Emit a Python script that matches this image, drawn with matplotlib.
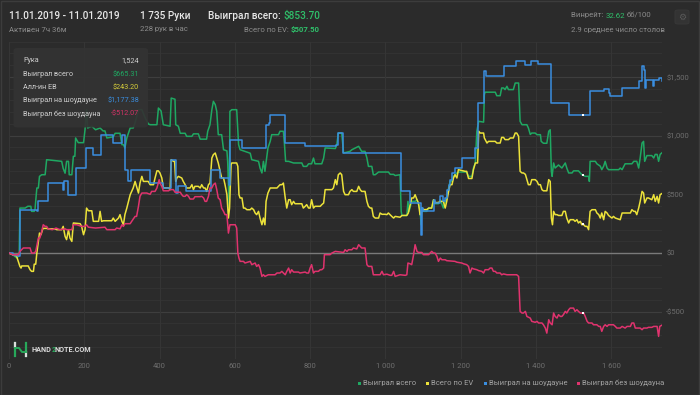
import matplotlib
matplotlib.use("Agg")
import matplotlib.pyplot as plt
from matplotlib.patches import FancyBboxPatch, Rectangle
from matplotlib.lines import Line2D

plt.rcParams['font.family'] = ['Roboto', 'DejaVu Sans']

# ---------------- data ----------------
green_h = [0,10,20,27,29,43,50,58,60,67,69,74,78,81,87,96,100,140,144,149,153,158,160,167,171,175,177,184,198,202,206,209,220,230,242,250,255,260,277,282,295,300,304,308,313,322,330,335,344,353,362,370,375,393,397,404,410,428,431,441,443,450,455,468,472,486,490,503,508,525,528,534,539,543,548,552,556,565,570,579,581,585,587,592,605,610,614,641,645,663,667,672,676,680,688,694,698,716,720,729,732,735,743,756,778,782,791,796,804,809,813,831,836,840,867,871,875,884,889,906,911,920,929,937,946,951,955,964,968,973,982,1008,1013,1022,1026,1039,1042,1044,1057,1060,1063,1070,1079,1084,1088,1092,1095,1097,1101,1110,1115,1123,1128,1132,1141,1146,1154,1159,1163,1168,1172,1177,1181,1190,1194,1216,1221,1230,1234,1239,1243,1248,1261,1263,1265,1292,1296,1305,1309,1314,1318,1323,1327,1340,1345,1354,1358,1363,1376,1380,1385,1389,1398,1403,1412,1414,1420,1429,1434,1438,1441,1443,1447,1451,1460,1469,1478,1482,1487,1496,1500,1513,1522,1524,1531,1540,1542,1544,1558,1562,1571,1575,1580,1584,1589,1593,1620,1624,1629,1637,1655,1660,1668,1673,1677,1682,1686,1689,1695,1708,1713,1717,1722,1726,1730,1735]
green_v = [0,-15,-40,-25,383,383,398,398,355,355,369,554,554,653,667,667,795,781,720,680,781,781,667,667,824,824,980,940,940,1050,1221,1065,1080,1050,1065,1040,1040,980,990,1020,1020,923,923,895,980,1065,1065,1110,1221,1221,1150,1100,1093,1093,1235,1210,1093,1080,1320,1310,1093,1080,1020,1020,994,994,1015,1015,970,970,1037,1093,1221,1292,1264,1207,1008,1008,880,870,781,383,1207,1221,1221,923,880,850,795,781,724,682,781,696,895,951,1008,1008,1037,1037,923,781,781,767,767,738,738,760,760,809,760,760,809,895,890,923,1022,1022,852,866,880,895,909,866,866,809,738,738,667,667,690,690,670,670,660,667,355,320,320,440,355,440,440,454,412,369,241,383,355,355,383,383,454,420,420,454,383,440,469,554,610,610,653,682,690,690,653,653,724,767,1037,1122,1115,1349,1370,1370,1340,1340,1406,1406,1392,1420,1392,1392,1448,1448,1122,1093,1093,1065,1010,1022,1022,1008,1008,951,935,935,1037,1050,696,653,767,724,750,724,767,724,682,682,700,700,667,665,653,653,610,781,781,760,740,710,740,781,724,710,710,724,710,760,760,781,781,724,809,937,951,781,830,830,809,840,840,781,840,854]

yellow_h = [0,10,20,29,32,34,51,56,60,65,67,71,74,78,81,85,89,91,100,104,122,127,140,144,149,153,158,162,167,171,189,193,198,202,206,211,220,224,238,242,246,251,273,277,282,291,295,300,304,308,313,322,330,335,344,348,353,357,370,375,384,388,393,397,401,406,410,424,428,431,437,440,443,446,450,459,463,468,472,481,486,490,494,503,508,512,517,521,525,530,534,539,543,548,552,556,561,565,570,574,579,583,586,590,592,605,608,611,614,619,623,627,632,641,645,650,654,658,663,667,672,676,680,683,688,694,712,716,720,725,729,734,738,743,747,751,756,760,778,782,787,791,796,800,804,809,813,827,831,836,840,858,862,867,871,875,880,884,889,893,902,906,911,915,924,929,933,937,946,951,955,960,964,968,973,982,986,991,1000,1004,1008,1017,1022,1026,1039,1044,1057,1061,1070,1075,1079,1084,1088,1092,1095,1097,1101,1110,1115,1123,1128,1132,1141,1146,1154,1159,1163,1168,1172,1177,1181,1185,1190,1194,1212,1216,1221,1230,1234,1239,1245,1248,1252,1261,1263,1270,1274,1292,1296,1305,1309,1314,1318,1327,1332,1340,1345,1349,1354,1358,1363,1367,1372,1376,1380,1385,1389,1398,1403,1407,1412,1416,1420,1429,1434,1438,1441,1444,1447,1451,1456,1460,1469,1473,1478,1482,1487,1491,1500,1504,1509,1513,1518,1522,1524,1527,1531,1536,1540,1544,1549,1558,1562,1567,1571,1575,1580,1584,1589,1593,1602,1606,1611,1624,1629,1651,1655,1660,1664,1668,1673,1677,1682,1686,1689,1695,1699,1708,1713,1717,1722,1726,1730,1735]
yellow_v = [0,-15,-25,-114,-128,-110,-110,-142,-156,-156,-95,-95,0,99,170,156,199,210,210,206,206,199,199,227,142,114,199,128,99,256,250,227,156,199,383,360,360,270,270,355,270,275,275,298,270,298,327,270,241,327,383,497,554,610,511,596,653,610,610,582,582,639,700,700,682,639,555,555,540,795,781,781,610,639,653,639,610,582,554,554,582,540,568,568,554,582,554,554,525,582,596,809,838,852,809,767,696,639,639,582,497,298,383,753,767,767,738,497,469,469,383,383,369,369,383,369,341,327,355,298,241,298,241,440,511,554,554,568,582,582,596,469,383,454,454,412,440,420,420,383,398,412,383,383,454,383,398,398,412,426,540,540,554,625,582,667,682,667,525,497,497,525,540,525,525,568,540,525,525,440,398,383,383,312,298,298,341,330,330,327,341,312,298,312,305,320,320,341,469,469,497,454,426,327,327,383,370,370,383,383,454,430,430,440,440,383,440,525,582,582,639,667,639,710,696,696,635,635,710,767,767,1037,1022,1022,980,937,951,951,937,937,985,985,966,966,980,980,1022,1022,994,696,682,682,670,625,582,582,625,625,610,582,582,540,530,530,625,610,298,241,355,327,327,320,320,355,355,298,256,284,284,270,284,256,270,241,243,241,227,227,199,355,369,369,341,327,298,341,284,355,341,320,298,312,298,284,341,341,369,355,355,327,383,440,525,511,426,469,469,454,497,440,483,426,497,507]

blue_h = [0,10,20,29,74,78,103,143,147,158,177,205,222,245,277,300,308,317,324,375,410,431,443,448,471,537,561,585,587,620,682,691,694,734,787,869,875,887,1042,1066,1095,1097,1101,1128,1132,1146,1154,1159,1163,1168,1172,1177,1185,1203,1237,1246,1263,1267,1314,1348,1372,1388,1405,1441,1487,1544,1580,1593,1598,1629,1673,1682,1686,1689,1692,1711,1714,1726,1735]
blue_v = [0,-15,-25,369,360,440,596,540,610,497,724,895,838,1008,937,1008,710,610,710,596,554,795,511,568,525,710,639,582,966,895,1093,1107,1179,937,909,923,1022,852,525,426,156,383,360,454,430,483,440,469,540,582,625,682,724,809,895,1278,1548,1505,1590,1633,1605,1639,1610,1278,1173,1377,1400,1363,1335,1406,1463,1590,1562,1406,1477,1420,1477,1490,1468]

pink_h = [0,10,25,29,38,56,60,67,71,78,82,87,91,96,100,104,115,125,135,149,153,167,171,180,193,202,206,211,230,255,260,282,286,295,300,304,308,322,326,335,339,344,348,353,366,375,379,388,393,399,401,406,410,424,428,437,441,455,459,463,468,472,477,481,490,494,508,512,517,521,525,530,534,539,543,548,552,556,561,565,570,574,579,583,587,601,605,608,611,614,623,627,641,645,654,658,663,667,672,676,680,689,707,712,720,725,729,734,738,743,747,751,756,769,773,787,791,796,800,804,809,813,822,827,831,836,838,853,858,867,889,893,898,902,911,915,924,929,933,937,946,951,955,964,968,986,991,995,1004,1013,1017,1022,1026,1039,1053,1057,1060,1066,1070,1075,1079,1084,1088,1097,1101,1115,1123,1128,1132,1137,1141,1146,1150,1159,1163,1185,1190,1203,1208,1216,1221,1225,1230,1234,1243,1248,1256,1261,1265,1274,1278,1283,1287,1292,1296,1305,1309,1314,1323,1327,1349,1354,1358,1363,1367,1372,1376,1385,1389,1398,1403,1407,1416,1420,1425,1429,1434,1438,1443,1447,1451,1456,1460,1465,1469,1473,1478,1482,1487,1491,1500,1504,1509,1513,1518,1524,1527,1531,1536,1540,1549,1553,1562,1567,1571,1575,1580,1584,1589,1593,1606,1611,1615,1624,1629,1637,1642,1651,1655,1660,1664,1677,1682,1686,1695,1699,1708,1713,1722,1726,1729,1735]
pink_v = [0,-15,-15,14,43,43,0,0,14,128,128,185,241,227,227,206,199,213,199,206,199,199,241,241,227,227,241,220,213,220,199,199,213,206,241,227,250,250,270,312,312,398,483,511,511,500,525,525,554,625,596,568,530,530,540,540,518,518,497,483,483,497,483,460,460,480,480,483,469,440,440,483,554,554,582,596,540,469,454,383,355,327,327,170,241,241,213,0,-43,-71,-71,-85,-71,-99,-85,-114,-99,-128,-199,-185,-199,-185,-185,-170,-170,-156,-170,-185,-156,-128,-170,-142,-162,-162,-170,-162,-170,-170,-128,-99,-170,-156,-156,-142,-142,-128,-14,-14,0,14,5,28,14,28,28,43,35,71,57,43,43,-99,-114,-114,-185,-185,-156,-185,-180,-190,-190,-156,-199,-185,-190,-185,-85,-92,-99,-14,71,14,5,5,-14,-14,14,0,0,-28,-71,-43,-57,-57,-65,-71,-78,-85,-92,-99,-114,-170,-128,-135,-142,-150,-156,-170,-142,-142,-128,-128,-156,-156,-170,-170,-185,-178,-185,-185,-185,-199,-497,-511,-511,-497,-540,-554,-582,-590,-582,-596,-596,-611,-639,-682,-568,-596,-611,-511,-540,-554,-525,-540,-540,-525,-497,-511,-483,-469,-469,-497,-483,-497,-511,-512,-511,-540,-582,-596,-596,-611,-611,-625,-625,-667,-625,-611,-625,-611,-611,-625,-639,-639,-625,-639,-625,-625,-596,-596,-639,-639,-653,-639,-639,-633,-633,-625,-625,-710,-625,-614]

x_ticks = [0, 200, 400, 600, 800, 1000, 1200, 1400, 1600]
x_tick_labels = ['0', '200', '400', '600', '800', '1 000', '1 200', '1 400', '1 600']
y_ticks = [-500, 0, 500, 1000, 1500]
y_tick_labels = ['-$500', '$0', '$500', '$1,000', '$1,500']

series_names = ['Выиграл всего', 'Всего по EV', 'Выиграл на шоудауне', 'Выиграл без шоудауна']
series_colors = ['#1fa862', '#ece23a', '#3a8ee0', '#e0336e']

hover_hand = 1524
hover_values = [665.31, 243.20, 1177.38, -512.07]
tooltip_rows = [('Рука', '1,524', '#cfcfcf'),
                ('Выиграл всего', '$665.31', '#1fa862'),
                ('Алл-ин EВ', '$243.20', '#d8cf3a'),
                ('Выиграл на шоудауне', '$1,177.38', '#3a8ee0'),
                ('Выиграл без шоудауна', '-$512.07', '#d23366')]

# ---------------- figure ----------------
BG = '#2b2b2b'
W, H = 700, 395
fig = plt.figure(figsize=(W / 100, H / 100), dpi=100, facecolor=BG)

def fx(px):
    return px / W

def fy(py):
    return 1 - py / H

ax = fig.add_axes([fx(9), fy(358.7), fx(662 - 9), (358.7 - 41.7) / H])
ax.set_facecolor(BG)
ax.set_xlim(0, 1735)
ax.set_ylim(-900, 1800)
for s in ax.spines.values():
    s.set_visible(False)

# grid
for v in range(-900, 1801, 100):
    if v == 0:
        continue
    c = '#3e3e3e' if v % 500 == 0 else '#323232'
    ax.axhline(v, color=c, lw=0.8, zorder=0)
ax.axhline(0, color='#7a7a7a', lw=1.0, zorder=1)
for v in x_ticks + [1735]:
    ax.axvline(v, color='#353535', lw=0.8, zorder=0)

ax.set_xticks(x_ticks)
ax.set_xticklabels(x_tick_labels)
ax.yaxis.tick_right()
ax.set_yticks(y_ticks)
ax.set_yticklabels(y_tick_labels)
ax.tick_params(axis='x', length=0, pad=3, labelsize=5.5, labelcolor='#6e6e6e')
ax.tick_params(axis='y', length=0, pad=3, labelsize=5.5, labelcolor='#6e6e6e')
for lab in ax.get_yticklabels():
    lab.set_horizontalalignment('left')

lw = 1.1
ax.plot(green_h, green_v, color=series_colors[0], lw=lw, zorder=3)
ax.plot(yellow_h, yellow_v, color=series_colors[1], lw=lw, zorder=4)
ax.plot(blue_h, blue_v, color=series_colors[2], lw=lw, zorder=5, drawstyle='steps-post')
ax.plot(pink_h, pink_v, color=series_colors[3], lw=lw, zorder=6)

# hover markers
ax.scatter([hover_hand] * 4, hover_values, s=2.2, marker='s', color='white', zorder=8, linewidths=0)

# ---------------- header ----------------
WHITE = '#e8e8e8'
GRAY = '#8c8c8c'
GREEN_T = '#2fbf6a'
fig.text(fx(9), fy(16), '11.01.2019 - 11.01.2019', color=WHITE, fontsize=7.2, va='center', ha='left', fontweight='medium')
fig.text(fx(9), fy(29.5), 'Активен 7ч 36м', color=GRAY, fontsize=5.6, va='center', ha='left')
fig.text(fx(140), fy(16), '1 735 Руки', color=WHITE, fontsize=7.2, va='center', ha='left', fontweight='medium')
fig.text(fx(140), fy(29.5), '228 рук в час', color=GRAY, fontsize=5.6, va='center', ha='left')
fig.text(fx(283), fy(16), 'Выиграл всего: ', color=WHITE, fontsize=7.2, va='center', ha='right', fontweight='medium')
fig.text(fx(283), fy(16), '$853.70', color=GREEN_T, fontsize=7.2, va='center', ha='left', fontweight='medium')
fig.text(fx(291), fy(29.5), 'Всего по EV: ', color=GRAY, fontsize=5.6, va='center', ha='right')
fig.text(fx(291), fy(29.5), '$507.50', color=GREEN_T, fontsize=5.6, va='center', ha='left', fontweight='bold')

fig.text(fx(571), fy(15.5), 'Винрейт: ', color=GRAY, fontsize=5.6, va='center', ha='left')
fig.text(fx(606), fy(15.5), '32.62', color=GREEN_T, fontsize=5.6, va='center', ha='left')
fig.text(fx(626.5), fy(15.5), 'бб/100', color=GRAY, fontsize=5.6, va='center', ha='left')
fig.text(fx(571), fy(29.5), '2.9 среднее число столов', color=GRAY, fontsize=5.6, va='center', ha='left')

# gear box
fig.patches.append(FancyBboxPatch((fx(675), fy(24)), fx(14), 14 / H,
                                  boxstyle='round,pad=0,rounding_size=0.004',
                                  transform=fig.transFigure, facecolor='#333333',
                                  edgecolor='#3a3a3a', lw=0.6))
fig.text(fx(682), fy(17), '\u2699', color='#5a5a5a', fontsize=6.5, va='center', ha='center',
         family='DejaVu Sans')

# outer frame
fig.patches.append(Rectangle((0.001, 0.001), 0.998, 0.997, transform=fig.transFigure,
                             fill=False, edgecolor='#3c3c3c', lw=1.0))

# ---------------- tooltip ----------------
fig.patches.append(FancyBboxPatch((fx(13.5), fy(127.5)), fx(134.5), 79.5 / H,
                                  boxstyle='round,pad=0,rounding_size=0.006',
                                  transform=fig.transFigure, facecolor='#333333',
                                  edgecolor='none', alpha=0.92, zorder=20))
row_y = [61, 74.5, 87.5, 101, 114]
for (lbl, val, col), yy in zip(tooltip_rows, row_y):
    fig.text(fx(23), fy(yy), lbl, color='#cfcfcf', fontsize=5.2, va='center', ha='left', zorder=21)
    fig.text(fx(139), fy(yy), val, color=col, fontsize=5.2, va='center', ha='right', zorder=21)

# ---------------- legend ----------------
leg_x = [359, 427, 485, 578]
for x0, name, col in zip(leg_x, series_names, series_colors):
    fig.patches.append(Rectangle((fx(x0 - 1.5), fy(384.5)), fx(3), 3 / H,
                                 transform=fig.transFigure, facecolor=col, edgecolor='none'))
    fig.text(fx(x0 + 4), fy(383), name, color='#a3a3a3', fontsize=5.5, va='center', ha='left')

# ---------------- logo ----------------
fig.add_artist(Line2D([fx(15), fx(15)], [fy(343), fy(356)], color='#27a85a', lw=1.6, transform=fig.transFigure))
fig.add_artist(Line2D([fx(15), fx(15)], [fy(343), fy(347)], color='#dddddd', lw=1.6, transform=fig.transFigure))
fig.add_artist(Line2D([fx(26), fx(26)], [fy(343), fy(356)], color='#27a85a', lw=1.6, transform=fig.transFigure))
fig.add_artist(Line2D([fx(26), fx(26)], [fy(352), fy(356)], color='#dddddd', lw=1.6, transform=fig.transFigure))
fig.add_artist(Line2D([fx(15), fx(19), fx(22), fx(26)], [fy(348), fy(348), fy(352), fy(352)],
                      color='#27a85a', lw=1.4, transform=fig.transFigure))

renderer = fig.canvas.get_renderer()
cur_x = fx(32)
for part, col in [('HAND', '#dcdcdc'), ('2', '#27a85a'), ('NOTE.COM', '#dcdcdc')]:
    t = fig.text(cur_x, fy(349.5), part, color=col, fontsize=5.2, fontweight='bold', va='center', ha='left')
    bb = t.get_window_extent(renderer=renderer)
    cur_x = cur_x + (bb.width - 0.6) / fig.bbox.width

fig.savefig('out.png', dpi=100, facecolor=BG)
